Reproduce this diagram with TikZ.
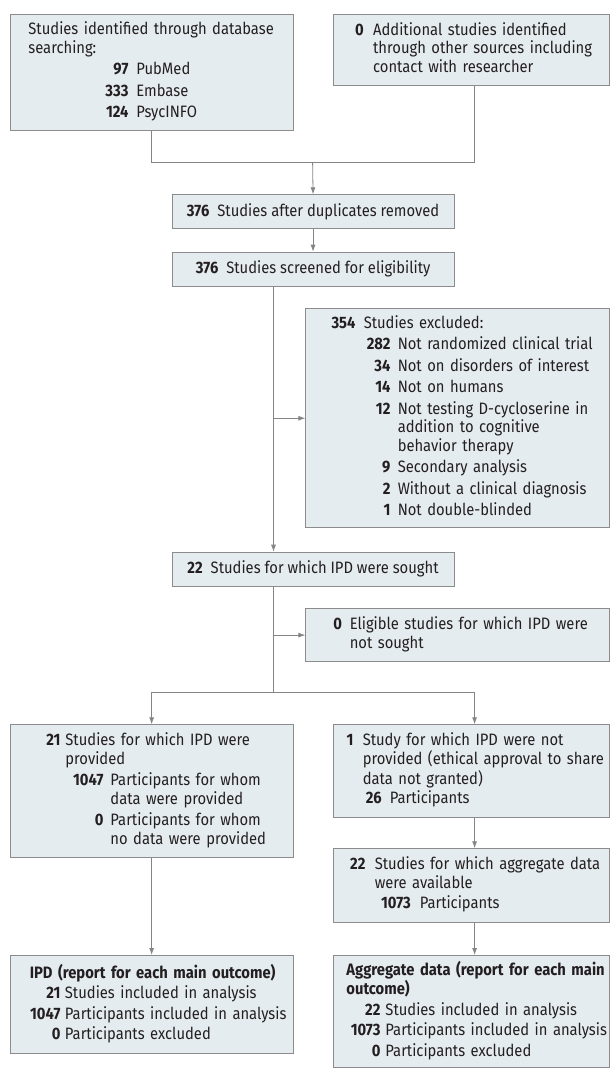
\documentclass[tikz,border=0pt]{standalone}
\usepackage{fontspec}
\setmainfont{Fira Sans}[FakeStretch=0.895]
\usetikzlibrary{arrows.meta}
\definecolor{boxfill}{HTML}{E5ECF0}
\definecolor{boxline}{HTML}{8C8C8C}
\definecolor{conline}{HTML}{858585}
\definecolor{txt}{HTML}{231F20}
% bold count, right aligned in a column: [gap]{indent}{column}{number}
\newcommand{\nr}[4][8pt]{\hspace*{#2}\makebox[#3][r]{\textbf{#4}}\hspace{#1}}
% lines of a box, broken only where written
\newenvironment{rows}{\begin{tabular}{@{}l@{}}}{\end{tabular}}
\begin{document}
\begin{tikzpicture}[x=1pt, y=-1pt,
    box/.style={draw=boxline, fill=boxfill, line width=0.9pt, anchor=north west, inner ysep=0pt,
      align=left, text=txt, font=\fontsize{16.5}{18.5}\selectfont},
    cbox/.style={box, align=center, minimum width=282pt, minimum height=34pt},
    conn/.style={draw=conline, line width=0.8pt},
    conarr/.style={conn, -{Latex[length=7pt, width=5pt]}}]
\useasboundingbox (0,0) rectangle (610,1072);

% identification
\node[box, inner xsep=18.3pt, text width=246.4pt, minimum height=115.7pt] (A) at (9.7,14.3) {\begin{rows}
  Studies identified through database\\
  searching:\\[3pt]
  \nr{0pt}{100pt}{97}PubMed\\[3pt]
  \nr{0pt}{100pt}{333}Embase\\[3pt]
  \nr{0pt}{100pt}{124}PsycINFO
\end{rows}};
\node[box, inner xsep=23.4pt, text width=228.9pt, minimum height=70.7pt] (B) at (333.3,14.3) {\begin{rows}
  \nr[9.4pt]{0pt}{6.6pt}{0}Additional studies identified\\
  \hspace*{16pt}through other sources including\\
  \hspace*{16pt}contact with researcher
\end{rows}};

% screening
\node[cbox] (C) at (171.6,194.3) {\textbf{376}\hspace{8pt}Studies after duplicates removed};
\node[cbox] (D) at (171.6,251.7) {\textbf{376}\hspace{8pt}Studies screened for eligibility};
\node[box, inner xsep=21.9pt, text width=259.8pt, minimum height=219pt] (E) at (305.4,308.3) {\begin{rows}
  \nr[8.3pt]{0pt}{27.7pt}{354}Studies excluded:\\[3pt]
  \nr[7.3pt]{36pt}{26.7pt}{282}Not randomized clinical trial\\[3pt]
  \nr[7.3pt]{36pt}{26.7pt}{34}Not on disorders of interest\\[3pt]
  \nr[7.3pt]{36pt}{26.7pt}{14}Not on humans\\[3pt]
  \nr[7.3pt]{36pt}{26.7pt}{12}Not testing D-cycloserine in\\
  \hspace*{70pt}addition to cognitive\\
  \hspace*{70pt}behavior therapy\\[3pt]
  \nr[7.3pt]{36pt}{26.7pt}{9}Secondary analysis\\[3pt]
  \nr[7.3pt]{36pt}{26.7pt}{2}Without a clinical diagnosis\\[3pt]
  \nr[7.3pt]{36pt}{26.7pt}{1}Not double-blinded
\end{rows}};

% eligibility
\node[cbox] (F) at (171.6,551.7) {\textbf{22}\hspace{8pt}Studies for which IPD were sought};
\node[box, inner xsep=28.6pt, text width=246.4pt, minimum height=52.7pt] (G) at (305.4,608.3) {\begin{rows}
  \nr[7.8pt]{0pt}{7.5pt}{0}Eligible studies for which IPD were\\
  \hspace*{15.3pt}not sought
\end{rows}};
\node[box, inner xsep=28.3pt, text width=226.4pt, minimum height=133pt] (H) at (9.7,724.3) {\begin{rows}
  \nr[5pt]{0pt}{22pt}{21}Studies for which IPD were\\
  \hspace*{27pt}provided\\[3pt]
  \nr[7pt]{27pt}{38pt}{1047}Participants for whom\\
  \hspace*{72pt}data were provided\\[3pt]
  \nr[7pt]{27pt}{38pt}{0}Participants for whom\\
  \hspace*{72pt}no data were provided
\end{rows}};
\node[box, inner xsep=10.7pt, text width=254.3pt, minimum height=92.4pt] (I) at (333.3,724.3) {\begin{rows}
  \nr[9.3pt]{0pt}{9pt}{1}Study for which IPD were not\\
  \hspace*{18.3pt}provided (ethical approval to share\\
  \hspace*{18.3pt}data not granted)\\[1pt]
  \nr[8pt]{18.3pt}{19pt}{26}Participants
\end{rows}};
\node[box, inner xsep=12.7pt, text width=250.3pt, minimum height=73.4pt] (J) at (333.3,848.3) {\begin{rows}
  \nr[9.3pt]{0pt}{19pt}{22}Studies for which aggregate data\\
  \hspace*{28.3pt}were available\\[2pt]
  \nr[9pt]{28.3pt}{36pt}{1073}Participants
\end{rows}};

% included
\node[box, inner xsep=9.6pt, text width=263.8pt, minimum height=98pt] (K) at (9.7,955) {\begin{rows}
  \hspace*{10pt}\textbf{IPD (report for each main outcome)}\\[2pt]
  \nr[4.5pt]{0pt}{40.7pt}{21}Studies included in analysis\\[2pt]
  \nr[4.5pt]{0pt}{40.7pt}{1047}Participants included in analysis\\[2pt]
  \nr[4.5pt]{0pt}{40.7pt}{0}Participants excluded
\end{rows}};
\node[box, inner xsep=9.4pt, text width=256.9pt, minimum height=112pt] (L) at (333.3,955) {\begin{rows}
  \hspace*{3.3pt}\textbf{Aggregate data (report for each main}\\
  \hspace*{3.3pt}\textbf{outcome)}\\[2pt]
  \nr[5pt]{0pt}{37.3pt}{22}Studies included in analysis\\[2pt]
  \nr[5pt]{0pt}{37.3pt}{1073}Participants included in analysis\\[2pt]
  \nr[5pt]{0pt}{37.3pt}{0}Participants excluded
\end{rows}};

\coordinate (m) at (312.6,162);
\coordinate (v) at (273.5,0);
\coordinate (s) at (273.5,692.3);

\draw[conn] (A.south) |- (m);
\draw[conn] ([xshift=3pt]B.south) |- (m);
\draw[conarr] (m) -- (C.north);
\draw[conarr] (C) -- (D);
\draw[conarr] (D.south -| v) -- (F.north -| v);
\draw[conarr] (E.west -| v) -- (E.west);
\draw[conarr] (G.west -| v) -- (G.west);
\draw[conn] (F.south -| v) -- (s);
\draw[conarr] (s) -| (H.north);
\draw[conarr] (s) -| ([xshift=3pt]I.north);
\draw[conarr] (H) -- (K);
\draw[conarr] ([xshift=3pt]I.south) -- ([xshift=3pt]J.north);
\draw[conarr] ([xshift=3pt]J.south) -- ([xshift=3pt]L.north);
\end{tikzpicture}
\end{document}
